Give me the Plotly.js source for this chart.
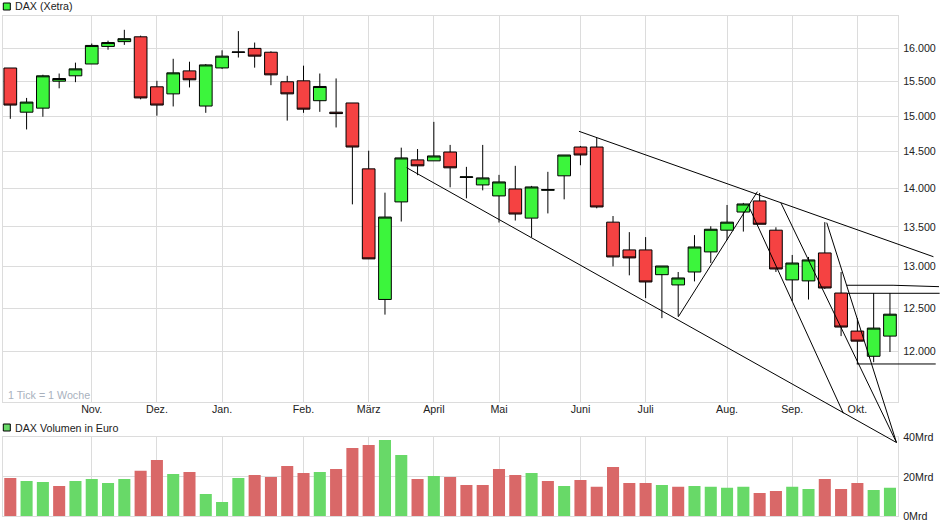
<!DOCTYPE html>
<html>
<head>
<meta charset="utf-8">
<script src="https://cdn.plot.ly/plotly-3.0.1.min.js"></script>
<style>html,body{margin:0;padding:0;background:#fff}#chart{width:940px;height:526px}</style>
</head>
<body>
<div id="chart"></div>
<script>
// Weekly candles (DAX, Xetra)
var weekIndex = [0,1,2,3,4,5,6,7,8,9,10,11,12,13,14,15,16,17,18,19,20,21,22,23,24,25,26,27,28,29,30,31,32,33,34,35,36,37,38,39,40,41,42,43,44,45,46,47,48,49,50,51,52,53,54];
var opens  = [15700,15055,15113,15505,15584,15760,16025,16098,16172,15422,15319,15657,15143,15701,15935,15995,15937,15496,15510,15220,15055,15187,14266,12602,13825,14388,14375,14496,14150,14050,13904,13996,13614,13978,14172,14565,14565,13562,13209,13209,12902,12777,12935,13184,13459,13693,13838,13459,12838,12826,13171,12679,12229,11940,12171];
var closes = [15157,15200,15584,15544,15687,16040,16084,16143,15260,15157,15628,15525,15746,15878,15940,15878,15598,15319,15098,15427,15035,14565,13097,13628,14415,14307,14442,14280,14158,14144,14090,13667,14023,13988,14455,14455,13759,13121,13109,12813,13009,12862,13246,13471,13562,13798,13535,12972,13046,13084,12740,12276,12113,12264,12427];
var highs  = [15700,15260,15600,15618,15780,16069,16113,16280,16190,15510,15838,15794,15760,15966,16260,16084,15951,15584,15735,15618,15545,15187,14514,13947,14556,14537,14917,14594,14293,14594,14185,14307,14037,14226,14455,14580,14690,13641,13434,13371,13009,12935,13396,13509,13785,13812,13943,13496,13146,13121,13562,12935,12380,12679,12679];
var lows   = [14960,14810,14990,15400,15490,15760,15975,16048,15240,15005,15137,15413,15046,15687,15857,15705,15446,14935,15046,15060,14838,13793,13097,12422,13570,14180,14375,14018,13872,13978,13557,13583,13371,13675,13859,14315,13741,13004,12894,12618,12380,12399,12820,13046,13334,13441,13535,12935,12582,12601,12728,12171,11853,11873,11989];

// Volume in Mrd Euro, and the direction of each bar
var volumes = [19.4,17.9,17.4,15.4,17.9,18.9,16.9,18.9,23.0,28.5,21.4,22.4,11.3,7.3,19.4,20.9,19.9,25.5,21.9,22.4,24.0,34.6,36.1,38.6,31.1,18.9,20.4,19.9,15.9,15.9,24.0,20.9,21.9,17.9,15.4,18.4,14.9,25.0,16.9,16.9,15.9,14.9,15.4,14.9,14.4,14.9,11.8,12.8,14.9,13.8,18.9,13.8,16.9,13.3,14.4];
var volumeDirs = ["r","g","g","r","g","g","g","g","r","r","g","r","g","g","g","r","r","r","r","g","r","r","r","g","g","r","g","r","r","r","r","r","g","r","g","r","r","r","r","r","g","r","g","g","g","g","r","r","g","g","r","r","r","g","g"];

// Month ticks
var monthPositions = [5,9,13,18,22,26,30,35,39,44,48,52];
var monthLabels = ["Nov.","Dez.","Jan.","Feb.","März","April","Mai","Juni","Juli","Aug.","Sep.","Okt."];
var priceTicks = [12000,12500,13000,13500,14000,14500,15000,15500,16000];
var priceTickLabels = ["12.000","12.500","13.000","13.500","14.000","14.500","15.000","15.500","16.000"];
var volumeTicks = [0,20,40];
var volumeTickLabels = ["0Mrd","20Mrd","40Mrd"];

// Hand-drawn trend lines (week index, price)
var lineLowX = [24.33,54.40],        lineLowY = [14282,11001];
var lineHighX = [34.91,56.67],       lineHighY = [14784,13124];
var lineUpX = [41.01,45.86],         lineUpY = [12397,13960];
var lineFan1X = [45.41,51.14],       lineFan1Y = [13732,11311];
var lineFan2X = [47.31,54.40],       lineFan2Y = [13811,11001];
var lineFan3X = [50.12,54.40],       lineFan3Y = [13555,11001];
var lineRes1X = [51.34,54.19,57.01], lineRes1Y = [12773,12773,12756];
var lineRes2X = [51.42,57.05],       lineRes2Y = [12676,12676];
var lineSupX = [51.96,56.81],        lineSupY = [11853,11853];
var trendLines = [[lineLowX,lineLowY],[lineHighX,lineHighY],[lineUpX,lineUpY],[lineFan1X,lineFan1Y],[lineFan2X,lineFan2Y],[lineFan3X,lineFan3Y],[lineRes1X,lineRes1Y],[lineRes2X,lineRes2Y],[lineSupX,lineSupY]];

var W = 940, H = 526;
var plotLeft = 2.5, plotRight = 898, priceTop = 16, priceBottom = 401.6, volTop = 437.3, volBottom = 516.3;
var pxPerWeek = 16.29, firstWeekPx = 10.3;
var pxPerLn = 1053, refPrice = 12000, refPx = 351;
function priceAt(py){ return refPrice*Math.exp((refPx-py)/pxPerLn); }
function weekAt(px){ return (px-firstWeekPx)/pxPerWeek; }

var GRID = "#dcdcdc", TEXT = "#222222", FONT = "'Liberation Sans', Arial, sans-serif";
var UP = "#3cf53c", DOWN = "#f54242", VOL_UP = "#68d968", VOL_DOWN = "#d96868";

var traces = [{
  type: "candlestick", x: weekIndex, open: opens, high: highs, low: lows, close: closes,
  xaxis: "x", yaxis: "y", showlegend: false, hoverinfo: "skip", whiskerwidth: 0,
  increasing: {line: {color: "#000000", width: 1}, fillcolor: UP},
  decreasing: {line: {color: "#000000", width: 1}, fillcolor: DOWN}
},{
  type: "bar", x: weekIndex, y: volumes, width: 0.74, xaxis: "x2", yaxis: "y2", showlegend: false, hoverinfo: "skip",
  marker: {color: volumeDirs.map(function(d){return d === "g" ? VOL_UP : VOL_DOWN;}), line: {width: 0}}
}];
trendLines.forEach(function(l){
  traces.push({type: "scatter", mode: "lines", x: l[0], y: l[1], xaxis: "x3", yaxis: "y3", showlegend: false, hoverinfo: "skip",
    line: {color: "#000000", width: 1}});
});

var tickFont = {family: FONT, size: 10.7, color: TEXT};
function legendSquare(y0, y1, fill){
  return {type: "rect", xref: "paper", yref: "paper", x0: 3.3/W, x1: 10.3/W, y0: 1-y1/H, y1: 1-y0/H,
    line: {color: "#000000", width: 1}, fillcolor: fill};
}
function label(text, x, y, color){
  return {xref: "paper", yref: "paper", x: x/W, y: 1-y/H, text: text, showarrow: false, xanchor: "left", yanchor: "middle",
    font: {family: FONT, size: 10.7, color: color || TEXT}, borderpad: 0, borderwidth: 0};
}

var layout = {
  width: W, height: H, margin: {l: 0, r: 0, t: 0, b: 0, pad: 0}, paper_bgcolor: "#ffffff", plot_bgcolor: "rgba(0,0,0,0)",
  showlegend: false, boxgap: 0.22, boxgroupgap: 0,
  xaxis: {type: "linear", domain: [plotLeft/W, plotRight/W], range: [weekAt(plotLeft), weekAt(plotRight)], anchor: "y",
    tickmode: "array", tickvals: monthPositions, ticktext: monthLabels, tickfont: tickFont, ticks: "", showgrid: true, gridcolor: GRID, gridwidth: 1,
    showline: true, linecolor: GRID, linewidth: 1, mirror: true, zeroline: false, rangeslider: {visible: false}, tickangle: 0, ticklabelstandoff: -2},
  yaxis: {type: "log", domain: [1-priceBottom/H, 1-priceTop/H], range: [Math.log10(priceAt(priceBottom)), Math.log10(priceAt(priceTop))], anchor: "x", side: "right",
    tickmode: "array", tickvals: priceTicks, ticktext: priceTickLabels, tickfont: tickFont, ticks: "", showgrid: true, gridcolor: GRID, gridwidth: 1,
    showline: true, linecolor: GRID, linewidth: 1, mirror: true, zeroline: false, ticklabelstandoff: 2},
  xaxis2: {type: "linear", domain: [plotLeft/W, plotRight/W], range: [weekAt(plotLeft), weekAt(plotRight)], anchor: "y2",
    tickmode: "array", tickvals: monthPositions, showticklabels: false, ticks: "", showgrid: true, gridcolor: GRID, gridwidth: 1,
    showline: true, linecolor: GRID, linewidth: 1, mirror: true, zeroline: false},
  yaxis2: {type: "linear", domain: [1-volBottom/H, 1-volTop/H], range: [0, 40], anchor: "x2", side: "right",
    tickmode: "array", tickvals: volumeTicks, ticktext: volumeTickLabels, tickfont: tickFont, ticks: "", showgrid: true, gridcolor: GRID, gridwidth: 1,
    showline: true, linecolor: GRID, linewidth: 1, mirror: true, zeroline: false, ticklabelstandoff: 2},
  xaxis3: {type: "linear", domain: [0, 1], range: [weekAt(0), weekAt(W)], anchor: "y3", visible: false},
  yaxis3: {type: "log", domain: [0, 1], range: [Math.log10(priceAt(H)), Math.log10(priceAt(0))], anchor: "x3", visible: false},
  shapes: [legendSquare(3, 10, UP), legendSquare(424, 431, VOL_UP)],
  annotations: [label("DAX (Xetra)", 15, 6), label("DAX Volumen in Euro", 15, 428), label("1 Tick = 1 Woche", 8, 395, "#a9b1bd")]
};

Plotly.newPlot("chart", traces, layout, {displayModeBar: false, staticPlot: true});
</script>
</body>
</html>
